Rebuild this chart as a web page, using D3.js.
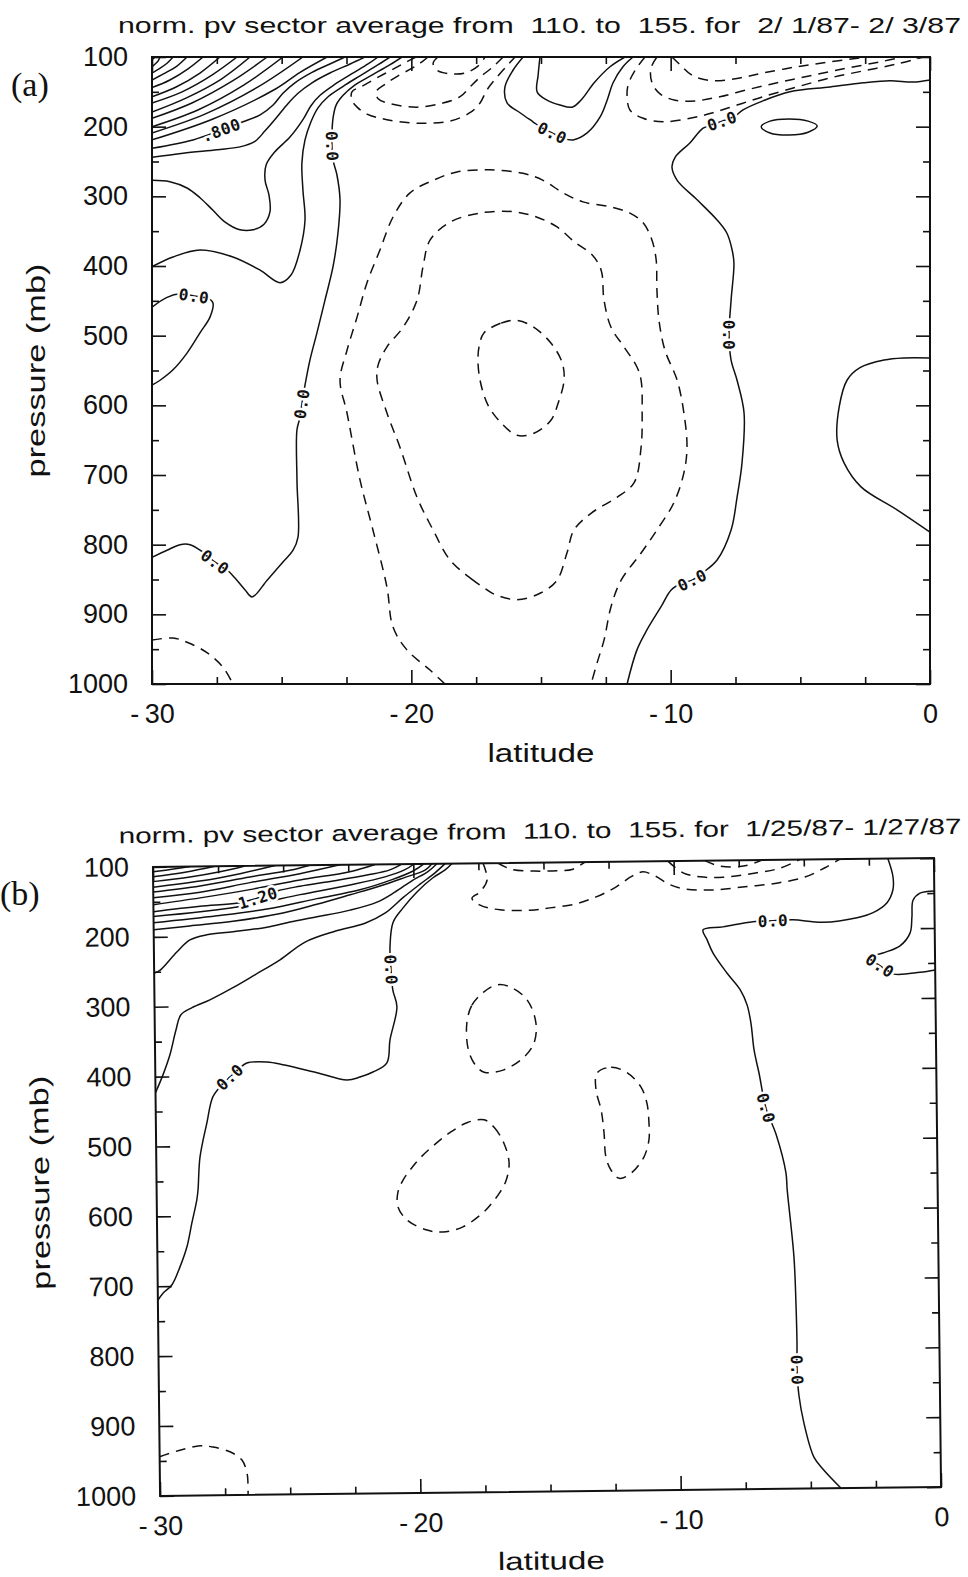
<!DOCTYPE html>
<html>
<head>
<meta charset="utf-8">
<title>Normalized PV sector average, 110-155</title>
<script src="https://cdn.jsdelivr.net/npm/d3@7/dist/d3.min.js"></script>
<style>
  html, body { margin: 0; padding: 0; background: #fff; }
  svg { display: block; }
</style>
</head>
<body>
<svg id="chart" width="968" height="1577"></svg>
<script>
// ---------- axes ----------
const latTicks = [-30, -20, -10, 0];
const latMinorTicks = [-27.5, -25, -22.5, -17.5, -15, -12.5, -7.5, -5, -2.5];
const pressureTicks = [100, 200, 300, 400, 500, 600, 700, 800, 900, 1000];
const pressureMinorTicks = [150, 250, 350, 450, 550, 650, 750, 850, 950];

const titleA = "norm. pv sector average from  110. to  155. for  2/ 1/87- 2/ 3/87";
const titleB = "norm. pv sector average from  110. to  155. for  1/25/87- 1/27/87";

// ---------- panel (a): contour lines as [latitude, pressure mb] ----------
const a_packLevels = [3.2, 3.0, 2.8, 2.6, 2.4, 2.2, 2.0, 1.8, 1.6, 1.4, 1.2, 1.0];
const a_packLines = [
  [[-30,104],[-29.88,100]],
  [[-30,114],[-29.88,110],[-29.77,106],[-29.69,100]],
  [[-30,123],[-29.73,117],[-29.42,109],[-29.19,100]],
  [[-30,133],[-29.54,124],[-29.04,113],[-28.65,100]],
  [[-30,144],[-29.31,133],[-28.61,117],[-28.03,100]],
  [[-30,157],[-29.07,143],[-28.15,123],[-27.38,100]],
  [[-30,166],[-28.84,150],[-27.69,126],[-26.72,100]],
  [[-30,179],[-28.69,159],[-27.34,132],[-26.22,100]],
  [[-30,188],[-28.46,166],[-26.88,134],[-25.56,100]],
  [[-30,200],[-28.23,176],[-26.45,140],[-24.95,100]],
  [[-30,209],[-27.96,182],[-25.91,143],[-24.18,100]],
  [[-30,219],[-27.65,189],[-25.29,147],[-24.29,122],[-23.25,100]]
];
const a_pv08 = [[-30,231],[-28.42,219],[-27.34,205],[-26.49,193],[-25.83,183],[-25.33,169],[-24.95,152],[-24.49,137],[-23.83,122],[-23.14,110],[-22.56,100]];
const a_pv06 = [[-30,244],[-28.80,238],[-27.49,233],[-26.61,229],[-26.03,221],[-25.64,206],[-25.22,188],[-24.76,167],[-24.37,152],[-23.83,137],[-23.14,123],[-22.36,110],[-21.79,100]];
const a_pv04 = [[-30,277],[-29.31,279],[-28.65,288],[-28.15,302],[-27.65,320],[-27.18,337],[-26.61,348],[-26.10,348],[-25.68,340],[-25.45,322],[-25.49,298],[-25.64,277],[-25.60,255],[-25.26,236],[-24.68,215],[-24.18,190],[-23.87,170],[-23.52,155],[-22.94,139],[-22.29,124],[-21.67,110],[-21.28,100]];
const a_pv02 = [[-30,401],[-29.19,387],[-28.15,377],[-26.88,387],[-25.83,406],[-25.06,424],[-24.64,413],[-24.29,377],[-24.10,334],[-24.18,291],[-24.22,252],[-24.10,219],[-23.87,193],[-23.60,173],[-23.21,157],[-22.63,142],[-21.98,127],[-21.28,111],[-20.82,100]];
const a_zeroWest = [[-30,818],[-29.42,808],[-28.92,800],[-28.53,800],[-28.03,811],[-27.57,825],[-27.11,836],[-26.80,848],[-26.41,865],[-26.14,875],[-25.56,851],[-24.95,825],[-24.56,808],[-24.37,789],[-24.41,707],[-24.41,635],[-24.29,617],[-24.22,598],[-24.10,571],[-23.91,535],[-23.64,496],[-23.33,449],[-23.02,401],[-22.83,353],[-22.75,305],[-22.87,269],[-23.02,248],[-23.06,228],[-23.06,209],[-23.02,188],[-22.90,169],[-22.63,155],[-22.17,140],[-21.52,126],[-20.82,111],[-20.36,100]];
const a_zeroLoop = [[-30,459],[-29.42,445],[-28.92,440],[-28.38,443],[-27.84,446],[-27.65,453],[-27.76,473],[-28.15,496],[-28.65,525],[-29.19,549],[-29.69,564],[-30,571]];
const a_zeroEast = [[0,133],[-0.65,136],[-1.54,134],[-2.58,137],[-3.85,143],[-5.40,150],[-6.44,163],[-7.21,176],[-7.63,188],[-8.02,192],[-8.40,198],[-8.75,202],[-9.25,223],[-9.83,244],[-9.95,258],[-9.75,277],[-8.98,305],[-8.21,334],[-7.83,353],[-7.63,377],[-7.56,396],[-7.67,449],[-7.75,499],[-7.67,535],[-7.44,564],[-7.17,611],[-7.25,683],[-7.44,732],[-7.67,779],[-8.21,822],[-8.79,841],[-9.17,851],[-9.56,855],[-9.98,865],[-10.37,889],[-10.91,922],[-11.30,951],[-11.68,1000]];
const a_zeroCap = [[-15.69,100],[-16.08,119],[-16.39,143],[-16.31,166],[-15.81,180],[-15.31,193],[-14.96,202],[-14.57,209],[-14.19,216],[-13.76,219],[-13.22,209],[-12.72,186],[-12.45,162],[-12.22,137],[-11.84,114],[-11.45,100]];
const a_capInner = [[-15.04,100],[-15.11,126],[-15.15,150],[-14.77,162],[-14.27,169],[-13.80,172],[-13.46,162],[-12.95,137],[-12.34,114],[-11.76,100]];
const a_eqLobe = [[0,532],[-1.00,532],[-1.77,535],[-2.70,546],[-3.20,564],[-3.50,602],[-3.58,650],[-3.31,683],[-2.66,717],[-1.27,750],[0,782]];
const a_smallCell = [[-6.51,200],[-6.17,192],[-5.43,189],[-4.70,192],[-4.35,199],[-4.70,208],[-5.43,212],[-6.17,209]];
const a_negTopW1 = [[-19.82,100],[-20.13,106],[-20.63,116],[-21.28,129],[-21.90,142],[-22.29,150],[-22.29,162],[-22.09,172],[-21.71,182],[-20.94,190],[-19.78,195],[-18.51,192],[-17.74,180],[-17.35,166],[-17.08,147],[-16.70,129],[-16.27,111],[-16.00,100]];
const a_negTopW2 = [[-19.36,100],[-19.59,107],[-19.97,116],[-20.51,127],[-21.01,139],[-21.36,150],[-21.28,160],[-20.82,167],[-19.78,172],[-18.78,166],[-18.12,157],[-17.74,143],[-17.35,129],[-16.85,114],[-16.46,100]];
const a_negTopW3 = [[-18.97,100],[-19.16,109],[-19.01,119],[-18.51,124],[-17.93,123],[-17.43,113],[-17.16,100]];
const a_negTopE1 = [[-10.99,100],[-11.37,119],[-11.64,140],[-11.68,157],[-11.57,176],[-11.06,188],[-10.29,193],[-9.25,188],[-8.37,180],[-7.44,169],[-6.44,157],[-5.13,143],[-3.85,130],[-2.58,120],[-1.27,110],[-0.27,100]];
const a_negTopE2 = [[-10.53,100],[-10.76,116],[-10.72,137],[-10.41,153],[-9.83,162],[-9.06,163],[-8.10,157],[-7.05,147],[-5.78,136],[-4.51,126],[-3.20,116],[-1.93,107],[-1.04,100]];
const a_negTopE3 = [[-9.95,100],[-9.64,111],[-9.14,127],[-8.37,134],[-7.33,130],[-6.44,123],[-5.13,114],[-3.85,107],[-2.46,100]];
const a_negCore1 = [[-18.70,1000],[-19.28,980],[-20.17,951],[-20.71,918],[-20.94,861],[-21.48,779],[-21.98,707],[-22.48,611],[-22.75,564],[-22.48,521],[-22.09,473],[-21.71,424],[-21.21,377],[-20.71,330],[-20.05,295],[-19.16,277],[-18.24,265],[-16.97,262],[-15.69,267],[-14.92,277],[-14.15,295],[-13.38,308],[-12.34,315],[-11.57,324],[-11.06,338],[-10.72,363],[-10.56,391],[-10.53,434],[-10.45,478],[-10.22,521],[-9.75,564],[-9.49,611],[-9.37,660],[-9.49,697],[-9.88,740],[-10.53,779],[-11.14,812],[-11.91,851],[-12.30,889],[-12.57,937],[-12.84,970],[-13.07,1000]];
const a_negCore2 = [[-17.20,862],[-17.62,851],[-18.51,822],[-19.16,779],[-19.78,732],[-20.44,660],[-20.94,611],[-21.32,564],[-21.28,542],[-20.94,516],[-20.32,488],[-19.78,449],[-19.55,401],[-19.28,363],[-18.51,337],[-17.35,324],[-16.08,322],[-15.15,330],[-14.38,344],[-13.69,366],[-13.03,384],[-12.68,406],[-12.57,449],[-12.30,488],[-11.80,516],[-11.30,545],[-11.14,564],[-11.10,611],[-11.14,660],[-11.41,711],[-12.07,732],[-13.07,755],[-13.73,779],[-14.00,812],[-14.38,851],[-15.00,869],[-15.92,879],[-16.81,871]];
const a_negCore3 = [[-17.20,496],[-16.54,482],[-15.92,478],[-15.27,488],[-14.61,511],[-14.19,538],[-14.11,564],[-14.34,597],[-14.61,621],[-15.27,640],[-15.92,643],[-16.54,625],[-17.04,600],[-17.35,564],[-17.43,531],[-17.35,509]];
const a_negSurface = [[-30,937],[-29.19,934],[-28.65,940],[-27.88,955],[-27.26,976],[-26.88,1000]];

// ---------- panel (b): 1/25/87 - 1/27/87 ----------
const b_packLevels = [2.6, 2.4, 2.2, 2.0, 1.8, 1.6, 1.4];
const b_packLines = [
  [[-30,107],[-29.15,103],[-28.58,100]],
  [[-30,114],[-28.77,108],[-27.62,100]],
  [[-30,121],[-28.58,115],[-27.43,108],[-26.47,100]],
  [[-30,129],[-28.20,121],[-26.66,111],[-25.31,100]],
  [[-30,136],[-28.20,128],[-26.28,116],[-24.74,107],[-23.97,100]],
  [[-30,144],[-28.20,137],[-26.28,124],[-24.36,112],[-22.82,100]],
  [[-30,154],[-28.20,145],[-26.29,134],[-24.36,121],[-22.44,110],[-21.47,100]]
];
const b_pv12 = [[-30,164],[-28.21,157],[-26.75,153],[-25.98,146],[-25.21,136],[-24.36,130],[-23.09,123],[-21.78,115],[-20.90,108],[-20.44,100]];
const b_pv10 = [[-30,171],[-28.20,165],[-26.29,156],[-24.36,142],[-22.44,129],[-21.09,118],[-20.32,108],[-19.97,100]];
const b_pv08 = [[-30,180],[-27.56,171],[-25.64,162],[-23.72,148],[-22.06,136],[-20.82,122],[-20.01,110],[-19.59,100]];
const b_pv06 = [[-30,190],[-28.61,185],[-26.95,179],[-25.03,168],[-23.72,156],[-22.44,143],[-21.29,131],[-20.32,119],[-19.55,109],[-19.28,100]];
const b_pv04 = [[-30,252],[-29.78,248],[-29.12,222],[-28.61,205],[-27.96,198],[-26.95,194],[-25.65,188],[-24.76,181],[-23.72,174],[-22.45,165],[-21.41,154],[-20.72,140],[-20.06,124],[-19.44,111],[-19.09,100]];
const b_pv02 = [[-30,423],[-29.71,398],[-29.43,369],[-29.19,334],[-28.99,312],[-28.56,302],[-27.87,291],[-26.98,274],[-26.13,256],[-25.16,235],[-24.19,210],[-23.04,195],[-21.88,184],[-21.11,170],[-20.41,148],[-19.75,129],[-19.17,113],[-18.78,100]];
const b_zeroWest = [[-30,720],[-29.80,710],[-29.45,698],[-29.14,673],[-28.86,644],[-28.66,610],[-28.46,577],[-28.41,563],[-28.32,516],[-28.04,467],[-27.80,430],[-27.45,413],[-27.14,402],[-26.75,389],[-26.48,382],[-25.71,381],[-25.09,385],[-23.79,397],[-22.64,408],[-22.14,404],[-21.64,397],[-21.10,384],[-20.97,351],[-20.69,304],[-20.84,280],[-20.90,251],[-20.93,218],[-20.80,183],[-20.42,163],[-19.87,140],[-19.25,120],[-18.78,109],[-18.51,100]];
const b_zeroEast = [[-1.77,100],[-1.58,126],[-1.59,145],[-1.82,163],[-2.36,177],[-2.98,184],[-4.29,190],[-5.44,186],[-6.21,187],[-6.98,188],[-8.13,195],[-8.90,199],[-8.75,213],[-8.53,232],[-8.00,261],[-7.50,285],[-7.24,307],[-7.10,333],[-6.99,372],[-6.81,405],[-6.56,455],[-6.18,493],[-5.82,548],[-5.78,572],[-5.55,668],[-5.49,740],[-5.47,792],[-5.48,830],[-5.42,866],[-5.24,906],[-4.87,955],[-4.49,974],[-3.84,1000]];
const b_zeroCorner = [[0,147],[-0.55,150],[-0.82,160],[-0.87,184],[-0.95,207],[-1.34,225],[-2.00,235],[-2.57,242],[-2.12,253],[-1.62,265],[-0.58,263],[0,260]];
const b_negTop0 = [[-16.75,100],[-16.25,109],[-15.37,112],[-14.48,112],[-13.87,110],[-13.41,100]];
const b_negTop1 = [[-17.32,100],[-17.17,124],[-17.45,141],[-17.76,150],[-17.45,160],[-16.69,167],[-15.53,168],[-14.77,165],[-13.81,160],[-12.99,150],[-12.26,137],[-11.60,121],[-11.18,115],[-10.72,121],[-10.19,133],[-9.61,140],[-8.54,142],[-7.27,138],[-6.00,133],[-4.96,125],[-4.19,112],[-3.61,100]];
const b_negTop2 = [[-10.22,100],[-9.64,117],[-8.99,123],[-8.11,124],[-6.80,118],[-5.92,112],[-5.15,100]];
const b_negTop3 = [[-8.80,100],[-8.22,108],[-7.26,108],[-6.61,100]];
const b_negMid1 = [[-18.01,328],[-17.81,303],[-17.34,284],[-16.80,274],[-16.30,278],[-15.69,296],[-15.36,329],[-15.44,358],[-15.83,378],[-16.61,396],[-17.37,399],[-17.75,386],[-17.98,364]];
const b_negMid2 = [[-13.03,402],[-12.49,394],[-11.88,402],[-11.35,423],[-11.13,446],[-11.06,474],[-11.07,499],[-11.27,523],[-11.77,546],[-12.23,553],[-12.54,541],[-12.73,522],[-12.79,488],[-12.89,455],[-13.08,426]];
const b_negMid3 = [[-17.39,467],[-17.01,478],[-16.64,501],[-16.45,529],[-16.57,554],[-16.81,571],[-17.12,586],[-17.44,599],[-18.25,620],[-19.02,627],[-19.63,624],[-20.40,609],[-20.74,590],[-20.73,569],[-20.53,552],[-20.26,538],[-19.87,521],[-19.37,504],[-18.71,485],[-18.05,471]];
const b_negSurface = [[-30,944],[-29.22,935],[-28.44,929],[-27.95,931],[-27.30,938],[-26.84,950],[-26.65,969],[-26.62,983],[-26.62,1000]];

// ---------- contour tables (level, line, closed ring?) ----------
const contoursA = [
  ...a_packLines.map((pts, i) => ({ level: a_packLevels[i], pts, closed: false })),
  { level: 0.8, pts: a_pv08 }, { level: 0.6, pts: a_pv06 },
  { level: 0.4, pts: a_pv04 }, { level: 0.2, pts: a_pv02 },
  { level: 0, pts: a_zeroWest }, { level: 0, pts: a_zeroLoop },
  { level: 0, pts: a_zeroEast }, { level: 0, pts: a_zeroCap },
  { level: 0.2, pts: a_capInner }, { level: 0.2, pts: a_eqLobe },
  { level: 0.2, pts: a_smallCell, closed: true },
  { level: -0.2, pts: a_negTopW1 }, { level: -0.4, pts: a_negTopW2 }, { level: -0.6, pts: a_negTopW3 },
  { level: -0.2, pts: a_negTopE1 }, { level: -0.4, pts: a_negTopE2 }, { level: -0.6, pts: a_negTopE3 },
  { level: -0.2, pts: a_negCore1 },
  { level: -0.4, pts: a_negCore2, closed: true },
  { level: -0.6, pts: a_negCore3, closed: true },
  { level: -0.2, pts: a_negSurface }
];
const contoursB = [
  ...b_packLines.map((pts, i) => ({ level: b_packLevels[i], pts, closed: false })),
  { level: 1.2, pts: b_pv12 }, { level: 1.0, pts: b_pv10 },
  { level: 0.8, pts: b_pv08 }, { level: 0.6, pts: b_pv06 },
  { level: 0.4, pts: b_pv04 }, { level: 0.2, pts: b_pv02 },
  { level: 0, pts: b_zeroWest }, { level: 0, pts: b_zeroEast }, { level: 0, pts: b_zeroCorner },
  { level: -0.2, pts: b_negTop0 }, { level: -0.2, pts: b_negTop1 },
  { level: -0.4, pts: b_negTop2 }, { level: -0.6, pts: b_negTop3 },
  { level: -0.2, pts: b_negMid1, closed: true },
  { level: -0.2, pts: b_negMid2, closed: true },
  { level: -0.2, pts: b_negMid3, closed: true },
  { level: -0.2, pts: b_negSurface }
];

// contour labels: the line they sit on and where along it
const labelsA = [
  { on: a_pv08, lat: -27.34, p: 205 },
  { on: a_zeroWest, lat: -23.06, p: 228 },
  { on: a_zeroWest, lat: -24.22, p: 598 },
  { on: a_zeroWest, lat: -27.57, p: 825 },
  { on: a_zeroLoop, lat: -28.38, p: 443 },
  { on: a_zeroCap, lat: -14.57, p: 209 },
  { on: a_zeroEast, lat: -8.02, p: 192 },
  { on: a_zeroEast, lat: -7.75, p: 499 },
  { on: a_zeroEast, lat: -9.17, p: 851 }
];
const labelsB = [
  { on: b_pv12, lat: -25.98, p: 146 },
  { on: b_zeroWest, lat: -27.14, p: 402 },
  { on: b_zeroWest, lat: -20.90, p: 251 },
  { on: b_zeroEast, lat: -6.21, p: 187 },
  { on: b_zeroEast, lat: -6.56, p: 455 },
  { on: b_zeroEast, lat: -5.48, p: 830 },
  { on: b_zeroCorner, lat: -2.12, p: 253 }
];

// ---------- layout ----------
const ink = "#111";
const sans = "'Liberation Sans', Arial, sans-serif";
const frameA = { left: 152, top: 57, width: 778, height: 627, yLabelX: 45 };
const frameB = { left: 156.5, top: 862.5, width: 781, height: 629, yLabelX: 49 };
const tiltB = { angle: -0.65, cx: 547, cy: 1177 };

const svg = d3.select("#chart");
svg.append("rect").attr("width", 968).attr("height", 1577).attr("fill", "#fff");

function levelText(v) {
  if (v === 0) return "0.0";
  return d3.format(".3g")(v).replace(/^0\./, ".");
}

function latText(d) {
  return d < 0 ? "-\u2009" + Math.abs(d) : String(d);
}

function drawPanel(g, f, contours, labels, title, id) {
  const x = d3.scaleLinear().domain([-30, 0]).range([f.left, f.left + f.width]);
  const y = d3.scaleLinear().domain([100, 1000]).range([f.top, f.top + f.height]);

  // title
  g.append("text")
    .attr("x", f.left - 34).attr("y", f.top - 24)
    .attr("textLength", 843).attr("lengthAdjust", "spacingAndGlyphs")
    .style("white-space", "pre")
    .attr("font-family", sans).attr("font-size", 22).attr("fill", ink)
    .text(title);

  // contours
  const clipId = "plot-clip-" + id;
  g.append("clipPath").attr("id", clipId).append("rect")
    .attr("x", f.left).attr("y", f.top).attr("width", f.width).attr("height", f.height);
  const cg = g.append("g").attr("clip-path", `url(#${clipId})`);

  const open = d3.line().x(d => x(d[0])).y(d => y(d[1])).curve(d3.curveCatmullRom.alpha(0.5));
  const ring = d3.line().x(d => x(d[0])).y(d => y(d[1])).curve(d3.curveCatmullRomClosed.alpha(0.5));

  cg.selectAll("path.contour").data(contours).join("path")
    .attr("class", "contour")
    .attr("d", c => (c.closed ? ring : open)(c.pts))
    .attr("fill", "none").attr("stroke", ink).attr("stroke-width", 1.5)
    .attr("stroke-linejoin", "round").attr("stroke-linecap", "butt")
    .attr("stroke-dasharray", c => c.level < 0 ? "10,7" : null);

  // inline contour labels, aligned with the line they sit on
  labels.forEach(lb => {
    const c = contours.find(k => k.pts === lb.on);
    const px = x(lb.lat), py = y(lb.p);
    let best = 0, bd = Infinity;
    lb.on.forEach((d, i) => {
      const dd = (x(d[0]) - px) ** 2 + (y(d[1]) - py) ** 2;
      if (dd < bd) { bd = dd; best = i; }
    });
    const a = lb.on[Math.max(0, best - 1)], b = lb.on[Math.min(lb.on.length - 1, best + 1)];
    let ang = Math.atan2(y(b[1]) - y(a[1]), x(b[0]) - x(a[0])) * 180 / Math.PI;
    if (ang > 90) ang -= 180;
    if (ang < -90) ang += 180;
    cg.append("text")
      .attr("transform", `translate(${px},${py}) rotate(${ang})`)
      .attr("text-anchor", "middle").attr("dy", "0.36em")
      .attr("font-family", "'DejaVu Sans Mono', monospace").attr("font-weight", "bold")
      .attr("font-size", 16).attr("letter-spacing", 0.5)
      .attr("fill", ink).attr("stroke", "#fff").attr("stroke-width", 5)
      .attr("paint-order", "stroke").attr("stroke-linejoin", "round")
      .text(levelText(c.level));
  });

  // axes with inward ticks on all four sides
  const styleAxis = sel => {
    sel.select(".domain").remove();
    sel.selectAll(".tick line").attr("stroke", ink).attr("stroke-width", 1.6);
    sel.selectAll(".tick text").attr("font-family", sans).attr("font-size", 27).attr("fill", ink);
  };
  const right = f.left + f.width, bottom = f.top + f.height;

  g.append("g").attr("transform", `translate(${f.left},0)`)
    .call(d3.axisLeft(y).tickValues(pressureTicks).tickSize(-14).tickPadding(24).tickFormat(d3.format("d")))
    .call(styleAxis);
  g.append("g").attr("transform", `translate(${f.left},0)`)
    .call(d3.axisLeft(y).tickValues(pressureMinorTicks).tickSize(-7).tickFormat(""))
    .call(styleAxis);
  g.append("g").attr("transform", `translate(${right},0)`)
    .call(d3.axisRight(y).tickValues(pressureTicks).tickSize(-14).tickFormat(""))
    .call(styleAxis);
  g.append("g").attr("transform", `translate(${right},0)`)
    .call(d3.axisRight(y).tickValues(pressureMinorTicks).tickSize(-7).tickFormat(""))
    .call(styleAxis);
  g.append("g").attr("transform", `translate(0,${bottom})`)
    .call(d3.axisBottom(x).tickValues(latTicks).tickSize(-14).tickPadding(20).tickFormat(latText))
    .call(styleAxis);
  g.append("g").attr("transform", `translate(0,${bottom})`)
    .call(d3.axisBottom(x).tickValues(latMinorTicks).tickSize(-7).tickFormat(""))
    .call(styleAxis);
  g.append("g").attr("transform", `translate(0,${f.top})`)
    .call(d3.axisTop(x).tickValues(latTicks).tickSize(-14).tickFormat(""))
    .call(styleAxis);
  g.append("g").attr("transform", `translate(0,${f.top})`)
    .call(d3.axisTop(x).tickValues(latMinorTicks).tickSize(-7).tickFormat(""))
    .call(styleAxis);

  // frame
  g.append("rect")
    .attr("x", f.left).attr("y", f.top).attr("width", f.width).attr("height", f.height)
    .attr("fill", "none").attr("stroke", ink).attr("stroke-width", 2);

  // axis titles
  g.append("text")
    .attr("x", f.left + f.width / 2).attr("y", bottom + 78)
    .attr("text-anchor", "middle").attr("textLength", 107).attr("lengthAdjust", "spacingAndGlyphs")
    .attr("font-family", sans).attr("font-size", 25).attr("fill", ink)
    .text("latitude");
  g.append("text")
    .attr("transform", `translate(${f.yLabelX},${f.top + f.height / 2}) rotate(-90)`)
    .attr("text-anchor", "middle").attr("textLength", 214).attr("lengthAdjust", "spacingAndGlyphs")
    .attr("font-family", sans).attr("font-size", 26).attr("fill", ink)
    .text("pressure (mb)");
}

const gA = svg.append("g");
drawPanel(gA, frameA, contoursA, labelsA, titleA, "a");

const gB = svg.append("g").attr("transform", `rotate(${tiltB.angle},${tiltB.cx},${tiltB.cy})`);
drawPanel(gB, frameB, contoursB, labelsB, titleB, "b");

// panel letters
svg.append("text").attr("x", 11).attr("y", 96)
  .attr("font-family", "'Liberation Serif', 'Times New Roman', serif").attr("font-size", 34).attr("fill", ink)
  .text("(a)");
svg.append("text").attr("x", 0).attr("y", 905)
  .attr("font-family", "'Liberation Serif', 'Times New Roman', serif").attr("font-size", 34).attr("fill", ink)
  .text("(b)");
</script>
</body>
</html>
